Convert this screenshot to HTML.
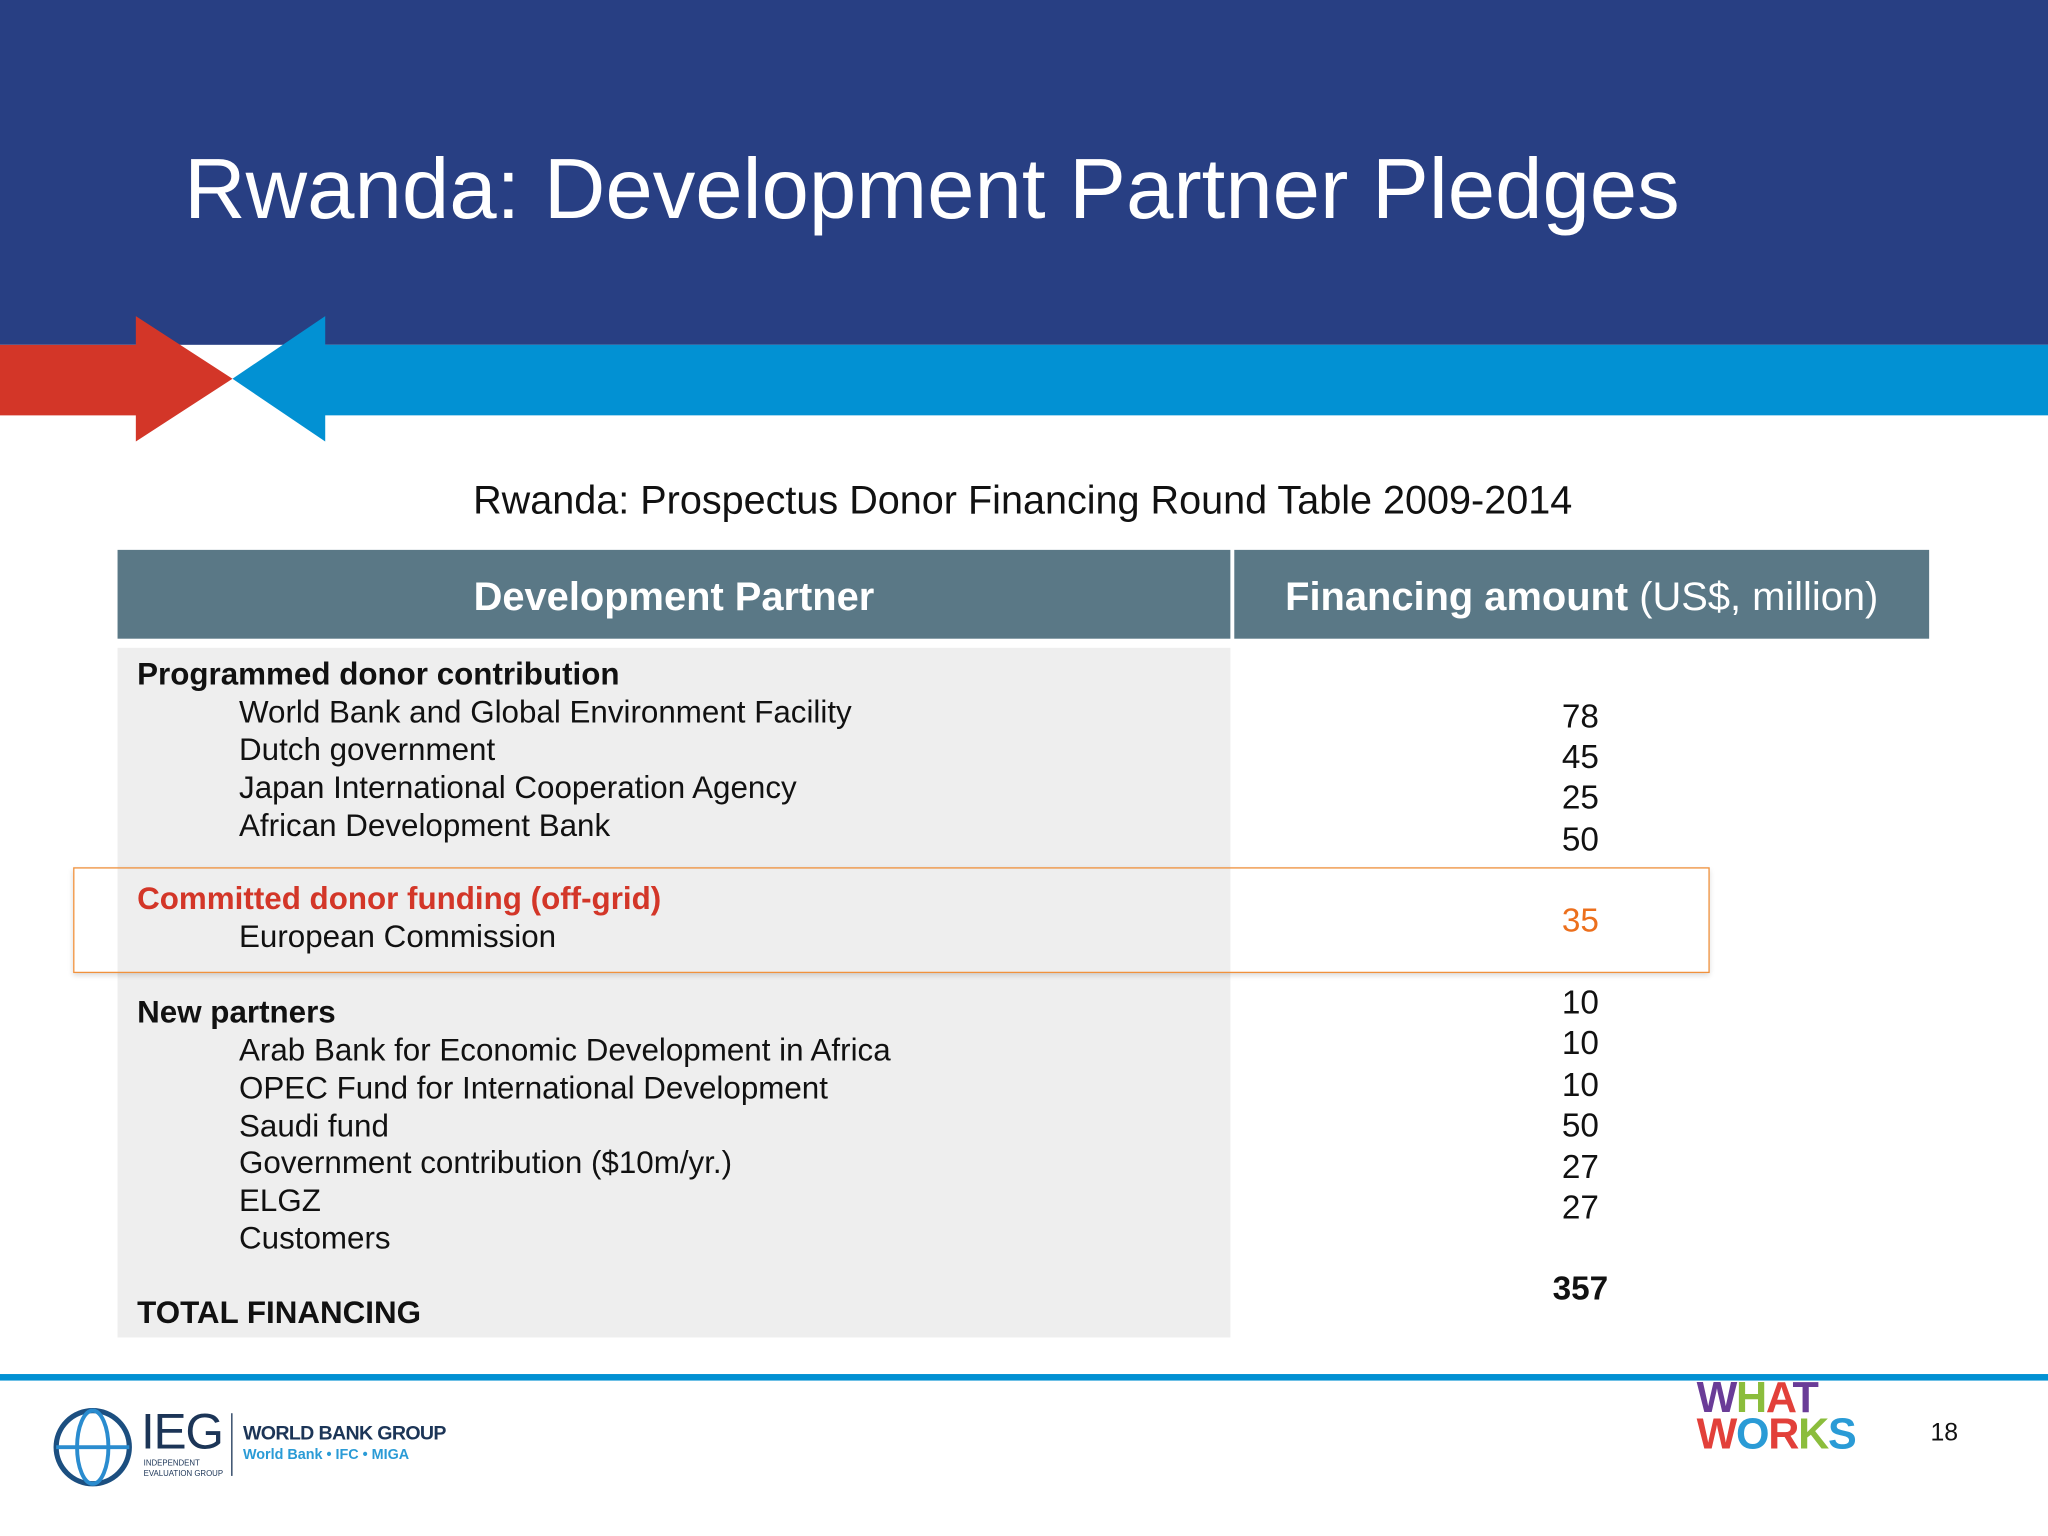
<!DOCTYPE html>
<html><head><meta charset="utf-8"><style>
html,body{margin:0;padding:0;width:2048px;height:1536px;overflow:hidden;background:#fff}
#s{position:absolute;left:0;top:0;width:1568px;height:1176px;transform:scale(1.306122);transform-origin:0 0;font-family:"Liberation Sans",sans-serif;color:#111}
.a{position:absolute}
.t{font-size:24px;white-space:nowrap}
.n{position:absolute;left:1160px;width:100px;text-align:center;font-size:25.5px}
</style></head><body><div id="s">
<div class="a" style="left:0;top:0;width:1568px;height:264px;background:#283f83"></div>
<div class="a" style="left:141px;top:107px;font-size:65.2px;color:#fff;white-space:nowrap">Rwanda: Development Partner Pledges</div>
<div class="a" style="left:248px;top:264px;width:1320px;height:54px;background:#0291d3"></div>
<svg class="a" style="left:0;top:240px" width="260" height="100">
<polygon points="0,24 104,24 104,2 178,50 104,98 104,78 0,78" fill="#d33628"/>
<polygon points="249,2 249,98 178,50" fill="#0291d3"/>
</svg>
<div class="a" style="left:0;width:1566px;top:367px;text-align:center;font-size:30.3px">Rwanda: Prospectus Donor Financing Round Table 2009-2014</div>
<div class="a" style="left:90px;top:421px;width:852px;height:68px;background:#5a7886;color:#fff;font-size:30.5px;font-weight:bold;text-align:center;line-height:72px">Development Partner</div>
<div class="a" style="left:945px;top:421px;width:532px;height:68px;background:#5a7886;color:#fff;font-size:30.5px;text-align:center;line-height:72px;white-space:nowrap"><b>Financing amount</b> (US$, million)</div>
<div class="a" style="left:90px;top:496px;width:852px;height:528px;background:#eeeeee"></div>
<div class="a t" style="left:105px;top:503px;font-weight:bold">Programmed donor contribution</div>
<div class="a t" style="left:183px;top:532px">World Bank and Global Environment Facility</div>
<div class="a t" style="left:183px;top:561px">Dutch government</div>
<div class="a t" style="left:183px;top:590px">Japan International Cooperation Agency</div>
<div class="a t" style="left:183px;top:619px">African Development Bank</div>
<div class="n" style="top:535px">78</div>
<div class="n" style="top:566px">45</div>
<div class="n" style="top:597px">25</div>
<div class="n" style="top:629px">50</div>
<div class="a" style="left:56px;top:664px;width:1251px;height:79px;border:1.5px solid #f0913c;box-shadow:0 2px 4px rgba(0,0,0,.15)"></div>
<div class="a t" style="left:105px;top:675px;font-weight:bold;color:#d33628">Committed donor funding (off-grid)</div>
<div class="a t" style="left:183px;top:704px">European Commission</div>
<div class="n" style="top:691px;color:#ec6f1c">35</div>
<div class="a t" style="left:105px;top:762px;font-weight:bold">New partners</div>
<div class="a t" style="left:183px;top:791px">Arab Bank for Economic Development in Africa</div>
<div class="a t" style="left:183px;top:820px">OPEC Fund for International Development</div>
<div class="a t" style="left:183px;top:849px">Saudi fund</div>
<div class="a t" style="left:183px;top:877px">Government contribution ($10m/yr.)</div>
<div class="a t" style="left:183px;top:906px">ELGZ</div>
<div class="a t" style="left:183px;top:935px">Customers</div>
<div class="a t" style="left:105px;top:992px;font-weight:bold">TOTAL FINANCING</div>
<div class="n" style="top:754px">10</div>
<div class="n" style="top:785px">10</div>
<div class="n" style="top:817px">10</div>
<div class="n" style="top:848px">50</div>
<div class="n" style="top:880px">27</div>
<div class="n" style="top:911px">27</div>
<div class="n" style="top:973px;font-weight:bold">357</div>
<div class="a" style="left:0;top:1052px;width:1568px;height:5px;background:#0291d3"></div>
<svg class="a" style="left:40px;top:1077px" width="64" height="64"><circle cx="31" cy="31" r="28" fill="none" stroke="#1c4f80" stroke-width="4"/><ellipse cx="31" cy="31" rx="12" ry="28" fill="none" stroke="#2a8ccf" stroke-width="3"/><line x1="3" y1="31" x2="59" y2="31" stroke="#2a8ccf" stroke-width="3"/></svg>
<div class="a" style="left:108px;top:1076px;font-size:38px;color:#1c3557;letter-spacing:-1px">IEG</div>
<div class="a" style="left:110px;top:1117px;font-size:6px;color:#1c3557;line-height:8px">INDEPENDENT<br>EVALUATION GROUP</div>
<div class="a" style="left:177px;top:1082px;width:1px;height:48px;background:#1c3557"></div>
<div class="a" style="left:186px;top:1089px;font-size:15px;font-weight:bold;color:#1c3557;letter-spacing:-.5px">WORLD BANK GROUP</div>
<div class="a" style="left:186px;top:1108px;font-size:11px;font-weight:bold;color:#2a9bd6">World Bank • IFC • MIGA</div>
<div class="a" style="left:1299px;top:1056px;width:122px;font-size:33px;font-weight:bold;line-height:28px;letter-spacing:-1px"><span style="color:#6a3c97">W</span><span style="color:#8bbd3c">H</span><span style="color:#e2403a">A</span><span style="color:#6a3c97">T</span><br><span style="color:#e2403a">W</span><span style="color:#2a9bd6">O</span><span style="color:#e2403a">R</span><span style="color:#8bbd3c">K</span><span style="color:#2a9bd6">S</span></div>
<div class="a" style="left:1478px;top:1087px;font-size:19px">18</div>
</div></body></html>
